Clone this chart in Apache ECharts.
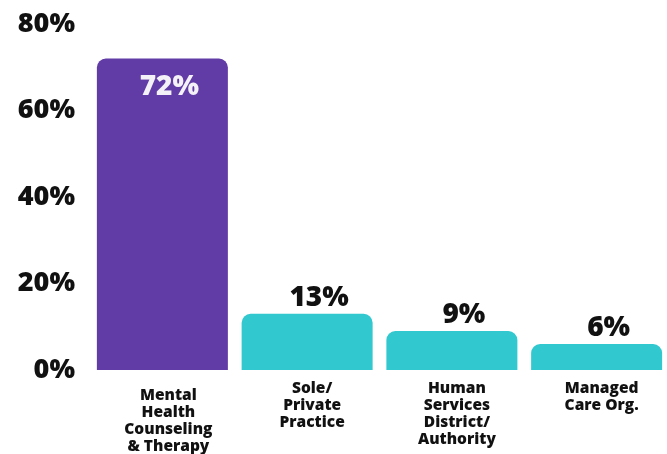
<!DOCTYPE html>
<html><head><meta charset="utf-8">
<script src="https://cdn.jsdelivr.net/npm/echarts@6/dist/echarts.min.js"></script>
<style>html,body{margin:0;padding:0;background:#fff}#c{width:667px;height:454px}</style>
</head><body><div id="c"></div>
<script>
const categories = ['Mental\nHealth\nCounseling\n& Therapy', 'Sole/\nPrivate\nPractice', 'Human\nServices\nDistrict/\nAuthority', 'Managed\nCare Org.'];
const values = [72, 13, 9, 6];
const yTicks = [0, 20, 40, 60, 80];

const FONT = 'Open Sans';
const chart = echarts.init(document.getElementById('c'));
chart.setOption({
  animation: false,
  grid: {left: 90, right: -2, top: 24, bottom: 84, outerBoundsMode: 'none', containLabel: false},
  xAxis: {
    type: 'category',
    data: categories.map((c, i) => i === 0 ? {value: c, textStyle: {padding: [7, 0, 0, 12]}} : {value: c}),
    axisLine: {show: false}, axisTick: {show: false},
    axisLabel: {interval: 0, margin: 10, color: '#111', fontFamily: FONT, fontWeight: 800, fontSize: 15.5, lineHeight: 17, padding: [0, 0, 0, 10]}
  },
  yAxis: {
    type: 'value', min: yTicks[0], max: yTicks[yTicks.length - 1], interval: 20,
    splitLine: {show: false}, axisLine: {show: false}, axisTick: {show: false},
    axisLabel: {formatter: '{value}%', color: '#111', fontFamily: FONT, fontWeight: 800, fontSize: 27, margin: 15}
  },
  series: [{
    type: 'bar',
    data: values.map((v, i) => ({
      value: v,
      itemStyle: {color: i === 0 ? '#613ba6' : '#32c8cf'},
      label: i === 0 ? {position: 'insideTop', color: '#f4f2f7', distance: 14, offset: [7, 0]} : {position: 'top', color: '#111', distance: 2, offset: [12, 0]}
    })),
    barWidth: 131,
    itemStyle: {borderRadius: [9, 9, 0, 0]},
    label: {show: true, formatter: '{c}%', fontFamily: FONT, fontWeight: 800, fontSize: 28}
  }]
});
</script></body></html>
